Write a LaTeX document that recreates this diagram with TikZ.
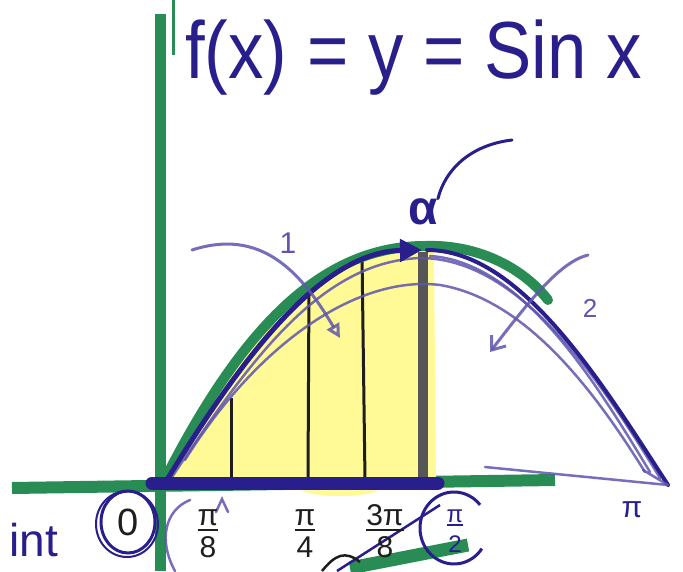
\documentclass[tikz,border=0pt]{standalone}
\usepackage{fontspec}
\setmainfont{Liberation Sans}
\usetikzlibrary{arrows.meta}
\definecolor{navyink}{RGB}{40,30,140}
\definecolor{penlight}{RGB}{95,85,175}
\definecolor{axisgreen}{RGB}{42,140,85}
\definecolor{hilite}{RGB}{255,250,150}
\definecolor{ink}{RGB}{30,30,30}
\newcommand{\handfrac}[2]{{\setlength\arrayrulewidth{2pt}\begin{tabular}{@{}c@{}}#1\\[-6pt]\hline\rule{0pt}{26pt}#2\end{tabular}}}
\tikzset{
  greenaxis/.style={axisgreen, line width=11pt},
  bluepen/.style={navyink, line width=5pt, line cap=round},
  lightpen/.style={penlight, line width=2.5pt, line cap=round, opacity=0.85},
  divline/.style={ink, line width=3pt},
  tick/.style={text=ink, inner sep=0pt, font=\fontsize{30}{32}\selectfont},
  handlbl/.style={inner sep=0pt}
}
\begin{document}
\begin{tikzpicture}[x=1pt,y=-1pt]
\useasboundingbox (0,0) rectangle (683,571);
% axes
\draw[greenaxis] (160,14) -- (160,571);
\draw[axisgreen, line width=3pt] (173,0) -- (173,55);
\draw[greenaxis, line width=12pt] (12,488) -- (555,480);
% yellow area
\fill[hilite] (162,487) .. controls (240,330) and (320,246) .. (425,246) -- (434,250) -- (436,490) -- cycle;
\fill[hilite] (340,488) ellipse[x radius=40, y radius=8];
% strips
\draw[divline] (231,398) -- (231,480);
\draw[divline] (309,283) -- (308,480);
\draw[divline] (362,255) -- (365,480);
\draw[ink!75, line width=10pt] (423,252) -- (423,482);
% green curve
\draw[axisgreen, line width=10pt, line cap=round] (162,485) .. controls (240,330) and (320,246) .. (425,246) .. controls (480,244) and (525,270) .. (548,300);
% blue curves
\draw[lightpen] (185,460) .. controls (260,340) and (360,275) .. (440,285) .. controls (530,300) and (600,400) .. (645,472);
\draw[lightpen] (170,480) .. controls (250,360) and (320,262) .. (420,258) .. controls (520,258) and (600,380) .. (660,478);
\draw[lightpen] (430,256) .. controls (525,262) and (600,390) .. (650,472);
\draw[bluepen, -{Triangle[length=22pt,width=22pt]}] (165,483) .. controls (240,360) and (320,252) .. (422,250);
\draw[navyink, line width=4pt, line cap=round] (427,250) .. controls (520,250) and (600,380) .. (668,485);
\draw[lightpen] (485,467) -- (668,485);
\draw[lightpen] (643,470) -- (668,485);
% thick base line
\draw[navyink, line width=13pt, line cap=round] (152,483) -- (438,483);
% arrows 1 and 2
\node[handlbl, text=penlight, font=\fontsize{30}{30}\selectfont] (one) at (288,243) {1};
\draw[lightpen, line width=3pt, -{Triangle[open,length=14pt,width=14pt]}] (192,250) .. controls (260,228) and (300,270) .. (340,338);
\node[handlbl, text=penlight, font=\fontsize{26}{26}\selectfont] (two) at (590,308) {2};
\draw[lightpen, line width=3pt, -{Straight Barb[length=12pt,width=18pt]}] (588,255) .. controls (560,262) and (530,300) .. (490,352);
% alpha
\node[handlbl, text=navyink, font=\fontsize{48}{48}\bfseries] (alphalbl) at (423,212) {α};
\draw[navyink, line width=3pt, line cap=round] (512,140) .. controls (470,145) and (445,170) .. (alphalbl.north east);
% title
\node[handlbl, text=navyink, anchor=base west] (title) at (185,78) {\scalebox{1.18}[1.35]{\fontsize{60}{60}\selectfont f(x) = y = Sin x}};
% bottom scribbles
\draw[axisgreen, line width=13pt] (350,568) -- (468,545);
\draw[navyink, line width=2.5pt] (337,571) -- (440,505);
\draw[ink, line width=2.5pt] (322,571) .. controls (335,555) and (345,550) .. (360,562);
\draw[lightpen] (190,500) .. controls (165,510) and (158,540) .. (175,571);
\draw[lightpen] (216,512) -- (222,499) -- (228,512);
% tick labels
\node[handlbl, text=ink, font=\fontsize{38}{38}\selectfont] (lbl0) at (128,522) {0};
\draw[navyink, line width=3pt] (128,522) ellipse[x radius=27, y radius=31];
\draw[navyink, line width=2pt] (127,524) ellipse[x radius=31, y radius=33];
\node[tick] (lbl1) at (208,535) {\handfrac{π}{8}};
\node[tick] (lbl2) at (305,535) {\handfrac{π}{4}};
\node[tick] (lbl3) at (385,535) {\handfrac{3π}{8}};
\node[tick, text=navyink, font=\fontsize{24}{26}\selectfont] (lbl4) at (455,532) {\handfrac{π}{2}};
\draw[navyink, line width=3pt] (454,528) ++(-40:34 and 36) arc[start angle=-40, end angle=-325, x radius=34, y radius=36];
\node[handlbl, text=navyink, font=\fontsize{30}{30}\selectfont] (lbl5) at (632,510) {π};
\node[handlbl, text=navyink, anchor=base east, font=\fontsize{46}{46}\selectfont] (int) at (58,556) {int};
\end{tikzpicture}
\end{document}
